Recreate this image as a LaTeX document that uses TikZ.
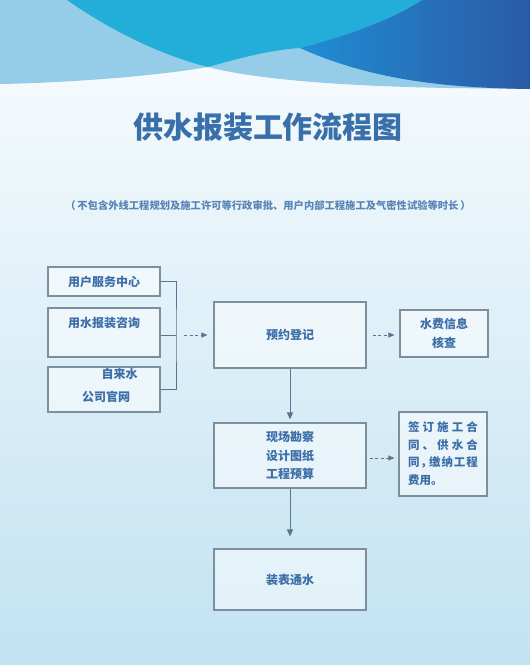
\documentclass[tikz,border=0pt]{standalone}
\usepackage{fontspec}
\setmainfont{Noto Sans CJK SC}
\usetikzlibrary{arrows.meta}
\definecolor{skyline}{HTML}{95CDE8}
\definecolor{cyanwave}{HTML}{22AED8}
\definecolor{deepwaveL}{HTML}{1F8ED4}
\definecolor{deepwaveR}{HTML}{2B5AA5}
\definecolor{titleblue}{HTML}{3A70AA}
\definecolor{boxtext}{HTML}{3C6EA8}
\definecolor{boxline}{HTML}{7D8E9F}
\definecolor{linkline}{HTML}{5A7591}
\tikzset{
  flowbox/.style={draw=boxline, line width=1.1pt, fill=white, fill opacity=0.5,
    text opacity=1, text=boxtext, inner sep=0pt,
    font=\fontsize{12}{18.5}\selectfont\bfseries, align=center},
  boxlabel/.style={text=boxtext, inner sep=0pt, font=\fontsize{12}{18.5}\selectfont\bfseries},
  solidarr/.style={draw=linkline, line width=0.9pt, -{Triangle[length=7pt,width=6pt]}},
  dasharr/.style={draw=linkline, line width=0.9pt, dash pattern=on 3pt off 2.5pt,
    -{Triangle[length=6pt,width=5pt]}},
  bracketline/.style={draw=linkline, line width=0.9pt}
}
\begin{document}
\begin{tikzpicture}[x=1pt,y=-1pt]
  \useasboundingbox (0,0) rectangle (530,665);
  % background
  \shade[top color=white!96!skyline, bottom color=skyline!58!white] (0,0) rectangle (530,665);
  \fill[skyline] (0,0) -- (530,0) -- (530,89) -- (450,88)
    .. controls (330,86) and (250,78) .. (208,67)
    .. controls (150,77) and (60,83) .. (0,84) -- cycle;
  \fill[cyanwave] (67,0) .. controls (110,30) and (160,55) .. (208,67)
    .. controls (240,58) and (270,50) .. (300,48)
    .. controls (350,35) and (395,18) .. (422,0) -- cycle;
  \shade[left color=deepwaveL, right color=deepwaveR] (422,0) -- (530,0) -- (530,89)
    .. controls (455,88) and (375,82) .. (300,48)
    .. controls (350,35) and (395,18) .. (422,0) -- cycle;
  % title
  \node[text=titleblue, font=\fontsize{30}{30}\selectfont\bfseries] (title) at (268,127) {供水报装工作流程图};
  \node[text=boxtext!85!white, font=\fontsize{10.3}{12}\selectfont\bfseries] (note) at (268,206)
    {（\,不包含外线工程规划及施工许可等行政审批、用户内部工程施工及气密性试验等时长\,）};
  % left column
  \node[flowbox, minimum width=112, minimum height=29] (fuwu) at (104,281.5) {用户服务中心};
  \node[flowbox, minimum width=112, minimum height=49] (zixun) at (104,332.5) {};
  \node[boxlabel] (zixuntxt) at (104,323) {用水报装咨询};
  \node[flowbox, minimum width=112, minimum height=45] (guanwang) at (104,389.5) {};
  \node[boxlabel] (guanwangtxt1) at (119.5,374) {自来水};
  \node[boxlabel] (guanwangtxt2) at (106,397) {公司官网};
  % main column
  \node[flowbox, minimum width=152, minimum height=66] (yuyue) at (290,335) {预约登记};
  \node[flowbox, minimum width=88, minimum height=47] (shuifei) at (444,333.5) {水费信息\\核查};
  \node[flowbox, minimum width=152, minimum height=65] (xianchang) at (290,455.5) {现场勘察\\设计图纸\\工程预算};
  \node[flowbox, minimum width=88, minimum height=84] (qianding) at (443,454) {};
  \node[boxlabel, align=left, font=\fontsize{11.5}{17.8}\selectfont\bfseries] (qiandingtxt) at (443,453.5)
    {\makebox[70pt][s]{签\hfil 订\hfil 施\hfil 工\hfil 合}\\
     \makebox[70pt][s]{同\hfil 、\hfil 供\hfil 水\hfil 合}\\
     \makebox[70pt][s]{同\hfil ，\hspace{-4pt}\hfil 缴\hfil 纳\hfil 工\hfil 程}\\
     费用。};
  \node[flowbox, minimum width=152, minimum height=61] (zhuangbiao) at (290,579.5) {装表通水};
  % connectors
  \coordinate (brk) at (176,335);
  \draw[bracketline] (fuwu.east) -| (brk) |- (guanwang.east);
  \draw[bracketline] (zixun.east |- brk) -- (brk);
  \draw[dasharr] ([xshift=8pt]brk) -- ([xshift=-6pt]yuyue.west |- brk);
  \draw[dasharr] ([xshift=6pt]yuyue.east) -- ([xshift=-5pt]yuyue.east -| shuifei.west);
  \draw[solidarr] (yuyue.south) -- ([yshift=3pt]xianchang.north);
  \draw[dasharr] ([xshift=3pt,yshift=-2.5pt]xianchang.east) -- ([xshift=-4pt,yshift=-2.5pt]xianchang.east -| qianding.west);
  \draw[solidarr] (xianchang.south) -- ([yshift=12pt]zhuangbiao.north);
\end{tikzpicture}
\end{document}
